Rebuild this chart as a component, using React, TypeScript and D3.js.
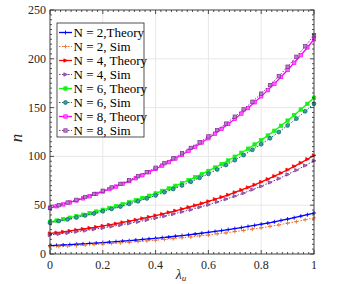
import React, { useEffect, useRef } from "react";
import * as d3 from "d3";

// theory curves: lambda = k/40, k = 0..40
const theoryN2 = [8.5, 8.85, 9.2, 9.6, 10.0, 10.4, 10.8, 11.2, 11.7, 12.2, 12.7, 13.2, 13.7, 14.3, 14.9, 15.5, 16.1, 16.8, 17.4, 18.2, 18.9, 19.7, 20.5, 21.3, 22.2, 23.1, 24.0, 25.0, 26.0, 27.1, 28.2, 29.3, 30.5, 31.7, 33.0, 34.4, 35.8, 37.2, 38.8, 40.3, 42.0];
const theoryN4 = [21.0, 21.8, 22.7, 23.6, 24.6, 25.6, 26.6, 27.6, 28.8, 29.9, 31.1, 32.4, 33.6, 35.0, 36.4, 37.9, 39.4, 40.9, 42.6, 44.3, 46.1, 47.9, 49.8, 51.8, 53.9, 56.1, 58.3, 60.6, 63.1, 65.6, 68.2, 70.9, 73.8, 76.7, 79.8, 83.0, 86.3, 89.8, 93.4, 97.1, 101.0];
const theoryN6 = [33.0, 34.3, 35.7, 37.2, 38.7, 40.2, 41.8, 43.5, 45.3, 47.1, 49.0, 51.0, 53.0, 55.1, 57.4, 59.7, 62.1, 64.6, 67.2, 69.9, 72.7, 75.6, 78.7, 81.8, 85.1, 88.6, 92.1, 95.8, 99.7, 103.7, 107.9, 112.2, 116.7, 121.4, 126.3, 131.4, 136.7, 142.2, 148.0, 153.9, 160.1];
const theoryN8 = [47.0, 48.9, 50.8, 52.8, 54.8, 57.0, 59.2, 61.6, 64.0, 66.5, 69.1, 71.9, 74.7, 77.6, 80.7, 83.8, 87.1, 90.6, 94.1, 97.8, 101.7, 105.7, 109.8, 114.2, 118.6, 123.3, 128.2, 133.2, 138.4, 143.9, 149.5, 155.4, 161.5, 167.9, 174.5, 181.4, 188.5, 195.9, 203.6, 211.6, 220.0];

// simulation points: lambda = j/30, j = 0..30
const simN2 = [7.4, 7.9, 8.4, 8.7, 9.3, 9.8, 10.2, 10.9, 11.5, 12.0, 12.8, 13.5, 14.1, 15.0, 15.7, 16.7, 17.5, 18.6, 19.4, 20.7, 21.6, 23.0, 24.1, 25.6, 26.8, 28.4, 29.8, 31.6, 33.2, 35.1, 37.0];
const simN4 = [19.5, 20.6, 21.6, 22.9, 24.0, 25.4, 26.7, 28.3, 29.7, 31.4, 33.0, 34.9, 36.8, 38.8, 40.9, 43.2, 45.4, 48.0, 50.5, 53.4, 56.2, 59.3, 62.4, 66.0, 69.4, 73.3, 77.2, 81.5, 85.9, 90.6, 95.5];
const simN6 = [32.0, 33.8, 35.5, 37.4, 39.5, 41.5, 43.8, 46.2, 48.6, 51.3, 54.0, 56.9, 60.0, 63.3, 66.6, 70.2, 74.0, 78.0, 82.1, 86.6, 91.2, 96.1, 101.3, 106.8, 112.5, 118.6, 124.9, 131.7, 138.7, 146.2, 154.0];
const simN8 = [47.5, 50.0, 52.7, 55.5, 58.4, 61.5, 64.8, 68.2, 71.8, 75.7, 79.7, 83.9, 88.4, 93.0, 98.0, 103.2, 108.7, 114.4, 120.5, 126.9, 133.6, 140.7, 148.2, 156.0, 164.3, 173.0, 182.2, 191.9, 202.1, 212.8, 224.1];

const seriesLabels = ["N = 2,Theory", "N = 2, Sim", "N = 4, Theory", "N = 4, Sim", "N = 6, Theory", "N = 6, Sim", "N = 8, Theory", "N = 8, Sim"];
const xTicks = [0, 0.2, 0.4, 0.6, 0.8, 1];
const yTicks = [0, 50, 100, 150, 200, 250];

type Marker = "plus" | "tri" | "square" | "circle";
interface Series {
  label: string;
  values: number[];
  color: string;
  dashed: boolean;
  marker: Marker;
  fill: string;
}

const series: Series[] = [
  { label: seriesLabels[0], values: theoryN2, color: "#0000ff", dashed: false, marker: "plus", fill: "none" },
  { label: seriesLabels[1], values: simN2, color: "#e8702a", dashed: true, marker: "plus", fill: "none" },
  { label: seriesLabels[2], values: theoryN4, color: "#ff0000", dashed: false, marker: "tri", fill: "#ff0000" },
  { label: seriesLabels[3], values: simN4, color: "#7e2f8e", dashed: true, marker: "tri", fill: "#a070c0" },
  { label: seriesLabels[4], values: theoryN6, color: "#00ff00", dashed: false, marker: "square", fill: "#30e030" },
  { label: seriesLabels[5], values: simN6, color: "#0e6b6b", dashed: true, marker: "circle", fill: "#3aa0a0" },
  { label: seriesLabels[6], values: theoryN8, color: "#ff00ff", dashed: false, marker: "square", fill: "#ff60ff" },
  { label: seriesLabels[7], values: simN8, color: "#7e2f8e", dashed: true, marker: "square", fill: "#b080c8" },
];

function drawMarker(g: d3.Selection<SVGGElement, unknown, null, undefined>, s: Series, cx: number, cy: number) {
  const r = 1.7;
  if (s.marker === "plus") {
    g.append("path").attr("d", `M${cx - 2},${cy}H${cx + 2}M${cx},${cy - 2}V${cy + 2}`)
      .attr("stroke", s.color).attr("stroke-width", 0.9).attr("fill", "none");
  } else if (s.marker === "tri") {
    g.append("path").attr("d", `M${cx + r + 0.3},${cy}L${cx - r},${cy - r}L${cx - r},${cy + r}Z`)
      .attr("stroke", s.color).attr("stroke-width", 0.7).attr("fill", s.fill);
  } else if (s.marker === "square") {
    g.append("rect").attr("x", cx - r).attr("y", cy - r).attr("width", 2 * r).attr("height", 2 * r)
      .attr("stroke", s.color).attr("stroke-width", 0.7).attr("fill", s.fill);
  } else {
    g.append("circle").attr("cx", cx).attr("cy", cy).attr("r", r + 0.2)
      .attr("stroke", s.color).attr("stroke-width", 0.8).attr("fill", s.fill);
  }
}

export default function App() {
  const ref = useRef<SVGSVGElement>(null);

  useEffect(() => {
    const svg = d3.select(ref.current);
    svg.selectAll("*").remove();

    const left = 50, right = 314, top = 10, bottom = 254;
    const x = d3.scaleLinear().domain([0, 1]).range([left, right]);
    const y = d3.scaleLinear().domain([0, 250]).range([bottom, top]);
    const font = "Liberation Serif, Times New Roman, DejaVu Serif, serif";

    svg.append("rect").attr("x", 0).attr("y", 0).attr("width", 357).attr("height", 284).attr("fill", "#fff");

    // grid
    const grid = svg.append("g");
    xTicks.forEach((t) => {
      grid.append("line").attr("x1", x(t)).attr("x2", x(t)).attr("y1", top).attr("y2", bottom)
        .attr("stroke", "#e8e8e8").attr("stroke-width", 1);
    });
    yTicks.forEach((t) => {
      grid.append("line").attr("x1", left).attr("x2", right).attr("y1", y(t)).attr("y2", y(t))
        .attr("stroke", "#e8e8e8").attr("stroke-width", 1);
    });

    // series
    const plot = svg.append("g");
    series.forEach((s) => {
      const n = s.values.length - 1;
      const pts: [number, number][] = s.values.map((v, i) => [x(i / n), y(v)]);
      plot.append("path").attr("d", d3.line()(pts)).attr("fill", "none").attr("stroke", s.color)
        .attr("stroke-width", s.dashed ? 1 : 1.3).attr("stroke-dasharray", s.dashed ? "1.5,1.5" : null);
      const mg = plot.append("g");
      pts.forEach(([px, py]) => drawMarker(mg, s, px, py));
    });

    // frame and ticks
    const axes = svg.append("g").attr("stroke", "#262626").attr("stroke-width", 0.8);
    axes.append("rect").attr("x", left).attr("y", top).attr("width", right - left).attr("height", bottom - top).attr("fill", "none");
    d3.range(0, 1.0001, 0.02).forEach((t) => {
      const major = xTicks.some((m) => Math.abs(m - t) < 1e-6);
      const len = major ? 4 : 2;
      axes.append("line").attr("x1", x(t)).attr("x2", x(t)).attr("y1", bottom).attr("y2", bottom - len);
      axes.append("line").attr("x1", x(t)).attr("x2", x(t)).attr("y1", top).attr("y2", top + len);
    });
    d3.range(0, 250.001, 5).forEach((t) => {
      const major = yTicks.includes(Math.round(t));
      const len = major ? 4 : 2;
      axes.append("line").attr("x1", left).attr("x2", left + len).attr("y1", y(t)).attr("y2", y(t));
      axes.append("line").attr("x1", right).attr("x2", right - len).attr("y1", y(t)).attr("y2", y(t));
    });

    // tick labels
    xTicks.forEach((t) => {
      svg.append("text").attr("x", x(t)).attr("y", 269).attr("text-anchor", "middle")
        .attr("font-family", font).attr("font-size", 12).attr("fill", "#262626").text(String(t));
    });
    yTicks.forEach((t) => {
      svg.append("text").attr("x", left - 4).attr("y", y(t) + 4).attr("text-anchor", "end")
        .attr("font-family", font).attr("font-size", 12).attr("fill", "#262626").text(String(t));
    });

    // axis titles
    const xl = svg.append("text").attr("x", 181).attr("y", 279).attr("text-anchor", "middle")
      .attr("font-family", font).attr("font-size", 14).attr("fill", "#262626");
    xl.append("tspan").attr("font-style", "italic").text("λ");
    xl.append("tspan").attr("dy", 2).attr("font-size", 9).attr("font-style", "italic").text("u");
    svg.append("text").attr("transform", "translate(22,138) rotate(-90)").attr("text-anchor", "middle")
      .attr("font-family", font).attr("font-size", 17).attr("font-style", "italic").attr("fill", "#262626").text("n");

    // legend
    const lg = svg.append("g");
    lg.append("rect").attr("x", 57).attr("y", 23).attr("width", 87).attr("height", 114)
      .attr("fill", "#fff").attr("stroke", "#262626").attr("stroke-width", 0.8);
    series.forEach((s, i) => {
      const cy = 32.5 + i * 14;
      lg.append("line").attr("x1", 59).attr("x2", 72).attr("y1", cy).attr("y2", cy).attr("stroke", s.color)
        .attr("stroke-width", s.dashed ? 1 : 1.3).attr("stroke-dasharray", s.dashed ? "1.5,1.5" : null);
      drawMarker(lg, s, 65.5, cy);
      lg.append("text").attr("x", 73.5).attr("y", cy + 4.5).attr("font-family", font).attr("font-size", 13)
        .attr("fill", "#000").text(s.label);
    });
  }, []);

  return <svg ref={ref} width={357} height={284} style={{ position: "absolute", left: 0, top: 0 }} />;
}
